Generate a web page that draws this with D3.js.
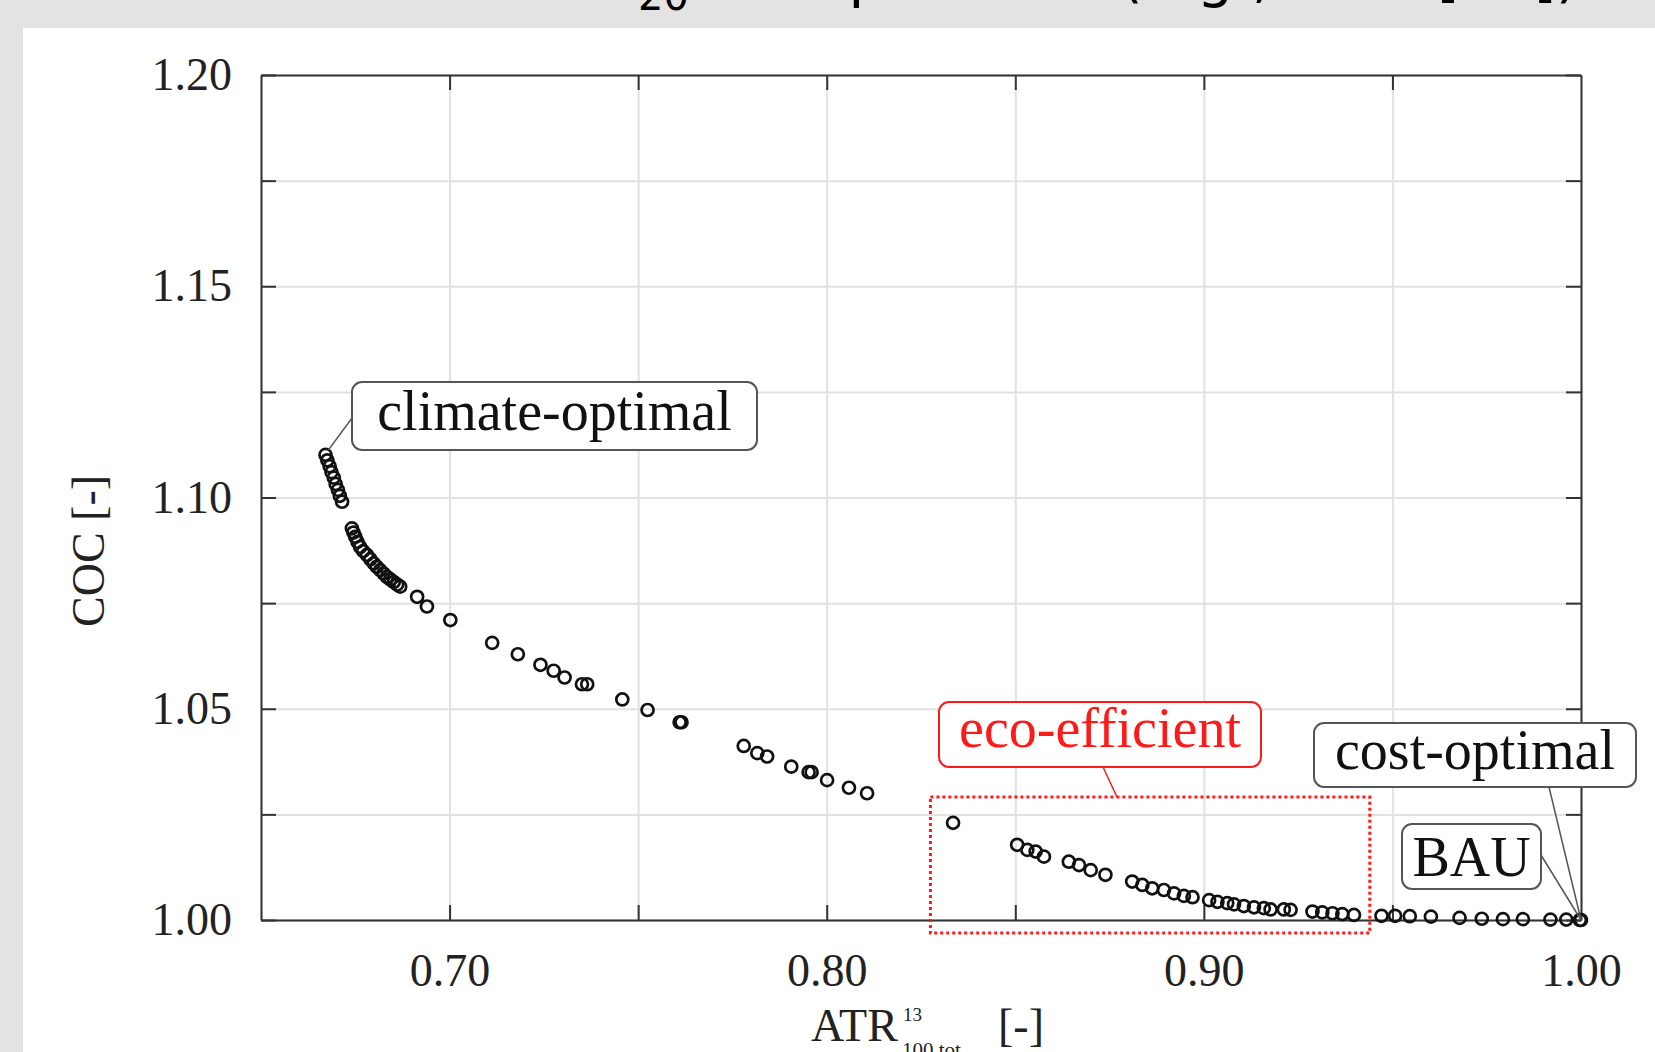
<!DOCTYPE html>
<html>
<head>
<meta charset="utf-8">
<script src="https://cdn.jsdelivr.net/npm/d3@7"></script>
<style>
  html, body { margin: 0; padding: 0; background: #e3e3e3; overflow: hidden; }
  svg text { font-family: "Liberation Serif", "DejaVu Serif", serif; }
</style>
</head>
<body>
<div id="pareto"></div>
<script>
// Datos: ATR normalizado (x) y COC normalizado (y)
const atrValues = [
  0.6671, 0.6676, 0.6682, 0.6687, 0.6693, 0.6698, 0.6704, 0.6709, 0.6715,
  0.6741, 0.6745, 0.6750, 0.6756, 0.6763, 0.6771, 0.6781, 0.6790, 0.6799, 0.6807, 0.6816, 0.6825, 0.6834, 0.6843, 0.6852, 0.6861, 0.6869,
  0.6914, 0.6940, 0.7002, 0.7113, 0.7181, 0.7241, 0.7276, 0.7305, 0.7351, 0.7365,
  0.7458, 0.7525, 0.7610, 0.7615,
  0.7780, 0.7816, 0.7842, 0.7906, 0.7952, 0.7960, 0.8001, 0.8059, 0.8107,
  0.8335,
  0.8505, 0.8532, 0.8554, 0.8576, 0.8642, 0.8669, 0.8700, 0.8739,
  0.8810, 0.8837, 0.8863, 0.8894, 0.8921, 0.8947, 0.8970,
  0.9014, 0.9036, 0.9062, 0.9080, 0.9106, 0.9133, 0.9159, 0.9177, 0.9212, 0.9230,
  0.9288, 0.9314, 0.9341, 0.9367, 0.9398,
  0.9471, 0.9507, 0.9546, 0.9602, 0.9678, 0.9737, 0.9793, 0.9846, 0.9919, 0.9961, 0.9997, 1.0000
];
const cocValues = [
  1.1101, 1.1088, 1.1074, 1.1060, 1.1047, 1.1032, 1.1018, 1.1004, 1.0990,
  1.0927, 1.0917, 1.0907, 1.0895, 1.0883, 1.0873, 1.0864, 1.0854, 1.0844, 1.0836, 1.0828, 1.0820, 1.0812, 1.0806, 1.0800, 1.0794, 1.0789,
  1.0765, 1.0742, 1.0710, 1.0656, 1.0629, 1.0604, 1.0590, 1.0574, 1.0558, 1.0558,
  1.0522, 1.0497, 1.0468, 1.0468,
  1.0412, 1.0395, 1.0387, 1.0363, 1.0350, 1.0350, 1.0331, 1.0313, 1.0300,
  1.0230,
  1.0178, 1.0166, 1.0162, 1.0150, 1.0138, 1.0130, 1.0118, 1.0107,
  1.0091, 1.0083, 1.0075, 1.0071, 1.0063, 1.0057, 1.0054,
  1.0047, 1.0043, 1.0040, 1.0037, 1.0033, 1.0030, 1.0028, 1.0025, 1.0025, 1.0024,
  1.0020, 1.0018, 1.0016, 1.0014, 1.0012,
  1.0010, 1.0010, 1.0009, 1.0008, 1.0005, 1.0003, 1.0002, 1.0002, 1.0001, 1.0001, 1.0000, 1.0000
];

// Ticks y rejilla
const xGridValues = [0.65, 0.70, 0.75, 0.80, 0.85, 0.90, 0.95, 1.00];
const xTickLabels = [0.70, 0.80, 0.90, 1.00];
const yGridValues = [1.000, 1.025, 1.050, 1.075, 1.100, 1.125, 1.150, 1.175, 1.200];
const yTickLabels = [1.00, 1.05, 1.10, 1.15, 1.20];

// Región eco-eficiente (rectángulo punteado): [x0, x1], [y0, y1]
const ecoAtrRange = [0.8275, 0.944];
const ecoCocRange = [0.9969, 1.0291];

const points = atrValues.map((d, i) => ({ atr: d, coc: cocValues[i] }));

// Tamaño del gráfico
const W = 1655, H = 1052;
const margin = { top: 75, left: 261, right: 74, bottom: 132 };
const width = W - margin.left - margin.right;
const height = H - margin.top - margin.bottom;

const svgRoot = d3.select("#pareto").append("svg")
  .attr("width", W)
  .attr("height", H);

// Fondo gris y panel blanco
svgRoot.append("rect").attr("width", W).attr("height", H).attr("fill", "#e3e3e3");
svgRoot.append("rect").attr("x", 23).attr("y", 28).attr("width", W - 23).attr("height", H - 28).attr("fill", "#fff");

// Título cortado arriba (solo se ven los descendentes)
const title = svgRoot.append("text")
  .attr("y", -4)
  .style("font-family", "'DejaVu Sans', sans-serif")
  .style("font-size", "58px")
  .attr("fill", "#000");
title.append("tspan").attr("x", 500).text("ATR");
title.append("tspan").attr("x", 638).attr("dy", 14).style("font-size", "40px").text("20");
title.append("tspan").attr("x", 813).attr("dy", -14).text("optimal");
title.append("tspan").attr("x", 1120).text("(e.g.,");
title.append("tspan").attr("x", 1437).text("[13])");

const svg = svgRoot.append("g")
  .attr("transform", `translate(${margin.left},${margin.top})`);

// Escalas
const x = d3.scaleLinear().domain([0.65, 1.00]).range([0, width]);
const y = d3.scaleLinear().domain([1.00, 1.20]).range([height, 0]);

// Rejilla
svg.append("g")
  .attr("class", "grid")
  .attr("transform", `translate(0,${height})`)
  .call(d3.axisBottom(x).tickValues(xGridValues).tickSize(-height).tickFormat(""))
  .call(g => g.select(".domain").remove())
  .call(g => g.selectAll("line").attr("stroke", "#e2e2e2").attr("stroke-width", 2));

svg.append("g")
  .attr("class", "grid")
  .call(d3.axisLeft(y).tickValues(yGridValues).tickSize(-width).tickFormat(""))
  .call(g => g.select(".domain").remove())
  .call(g => g.selectAll("line").attr("stroke", "#e2e2e2").attr("stroke-width", 2));

// Ejes con ticks hacia dentro
const fmt = d => xTickLabels.some(v => Math.abs(v - d) < 1e-9) ? d.toFixed(2) : "";
const fmtY = d => yTickLabels.some(v => Math.abs(v - d) < 1e-9) ? d.toFixed(2) : "";

const axisStyle = g => {
  g.select(".domain").attr("stroke", "#333").attr("stroke-width", 2);
  g.selectAll(".tick line").attr("stroke", "#333").attr("stroke-width", 2);
  g.selectAll(".tick text").attr("fill", "#222").style("font-size", "46px")
    .style("font-family", "'Liberation Serif', serif");
};

svg.append("g")
  .attr("transform", `translate(0,${height})`)
  .call(d3.axisBottom(x).tickValues(xGridValues.slice(1, -1)).tickSizeInner(-15).tickSizeOuter(0).tickPadding(33).tickFormat(fmt))
  .call(axisStyle);

// etiqueta de 1.00 en el borde derecho
svg.append("g")
  .attr("transform", `translate(0,${height})`)
  .call(d3.axisBottom(x).tickValues([1.00]).tickSize(0).tickPadding(33).tickFormat(fmt))
  .call(g => g.select(".domain").remove())
  .call(axisStyle);

svg.append("g")
  .call(d3.axisTop(x).tickValues(xGridValues.slice(1, -1)).tickSizeInner(-15).tickSizeOuter(0).tickFormat(""))
  .call(axisStyle);

svg.append("g")
  .call(d3.axisLeft(y).tickValues(yGridValues).tickSizeInner(-15).tickSizeOuter(0).tickPadding(29).tickFormat(fmtY))
  .call(axisStyle);

svg.append("g")
  .attr("transform", `translate(${width},0)`)
  .call(d3.axisRight(y).tickValues(yGridValues).tickSizeInner(-15).tickSizeOuter(0).tickFormat(""))
  .call(axisStyle);

// Títulos de ejes
svgRoot.append("text")
  .attr("transform", "translate(104,551) rotate(-90)")
  .attr("text-anchor", "middle")
  .style("font-size", "46px")
  .attr("fill", "#222")
  .text("COC [-]");

const xLabel = svgRoot.append("text")
  .attr("x", 811)
  .attr("y", 1041)
  .style("font-size", "46px")
  .attr("fill", "#222");
xLabel.append("tspan").text("ATR");
xLabel.append("tspan").attr("x", 903).attr("y", 1021).style("font-size", "19px").text("13");
xLabel.append("tspan").attr("x", 902).attr("y", 1057).style("font-size", "21px").text("100,tot");
xLabel.append("tspan").attr("x", 998).attr("y", 1041).text("[-]");

// Rectángulo punteado de la región eco-eficiente
svg.append("rect")
  .attr("x", x(ecoAtrRange[0]))
  .attr("y", y(ecoCocRange[1]))
  .attr("width", x(ecoAtrRange[1]) - x(ecoAtrRange[0]))
  .attr("height", y(ecoCocRange[0]) - y(ecoCocRange[1]))
  .attr("fill", "none")
  .attr("stroke", "#ff1a1a")
  .attr("stroke-width", 3)
  .attr("stroke-dasharray", "3,3");

// Puntos del frente de Pareto
svg.selectAll(".pt")
  .data(points)
  .enter()
  .append("circle")
  .attr("class", "pt")
  .attr("cx", d => x(d.atr))
  .attr("cy", d => y(d.coc))
  .attr("r", 6)
  .attr("fill", "none")
  .attr("stroke", "#111")
  .attr("stroke-width", 2.7);

// Anotaciones (posiciones en píxeles de la figura)
const first = points[0];
const last = points[points.length - 1];

function labelBox(x0, y0, w, h, txt, color, baseline) {
  svgRoot.append("rect")
    .attr("x", x0).attr("y", y0).attr("width", w).attr("height", h)
    .attr("rx", 10).attr("ry", 10)
    .attr("fill", "#fff")
    .attr("stroke", color)
    .attr("stroke-width", 2);
  svgRoot.append("text")
    .attr("x", x0 + w / 2)
    .attr("y", baseline)
    .attr("text-anchor", "middle")
    .style("font-size", "56px")
    .attr("fill", color === "#555" ? "#111" : color)
    .text(txt);
}

function leader(x1, y1, x2, y2, color) {
  svgRoot.append("line")
    .attr("x1", x1).attr("y1", y1).attr("x2", x2).attr("y2", y2)
    .attr("stroke", color).attr("stroke-width", 1.5);
}

leader(352, 418, margin.left + x(first.atr) + 3, margin.top + y(first.coc) - 5, "#555");
labelBox(352, 382, 405, 68, "climate-optimal", "#555", 430);

leader(1103, 767, 1117, margin.top + y(ecoCocRange[1]), "#ff1a1a");
labelBox(939, 702, 322, 65, "eco-efficient", "#ff1a1a", 747);

leader(1549, 787, margin.left + x(last.atr), margin.top + y(last.coc), "#555");
labelBox(1314, 723, 322, 64, "cost-optimal", "#555", 769);

leader(1541, 855, margin.left + x(last.atr), margin.top + y(last.coc), "#555");
labelBox(1402, 824, 139, 65, "BAU", "#555", 876);
</script>
</body>
</html>
